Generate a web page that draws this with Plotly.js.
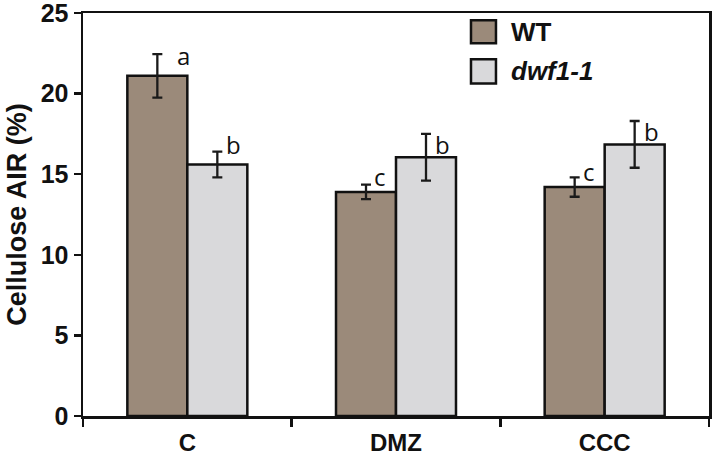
<!DOCTYPE html>
<html>
<head>
<meta charset="utf-8">
<script src="https://cdn.plot.ly/plotly-3.0.1.min.js"></script>
<style>html,body{margin:0;padding:0;background:#fff}#chart{width:713px;height:458px}</style>
</head>
<body>
<div id="chart"></div>
<script>
// ---- data ----
const categories = ['C', 'DMZ', 'CCC'];
const seriesNames = ['WT', 'dwf1-1'];
const wtValues = [21.1, 13.9, 14.2];
const wtErrors = [1.35, 0.45, 0.6];
const dwfValues = [15.6, 16.05, 16.85];
const dwfErrors = [0.8, 1.45, 1.45];
const wtLetters = ['a', 'c', 'c'];
const dwfLetters = ['b', 'b', 'b'];
const yTicks = [0, 5, 10, 15, 20, 25];

// ---- style ----
const wtColor = '#9b8a7a';
const dwfColor = '#d9d9db';
const bargap = 0.425;
const letterXShiftWT = [18, 6, 6];
const letterXShiftDWF = [7, 7, 7];
const letterYShiftWT = [20, 15, 16];
const letterYShiftDWF = [20, 13, 13];

const errStyle = {type: 'data', visible: true, color: '#1a1a1a', thickness: 2.3, width: 5};
const traces = [
  {type: 'bar', name: seriesNames[0], x: categories, y: wtValues,
   error_y: Object.assign({array: wtErrors}, errStyle),
   marker: {color: wtColor, line: {color: '#111', width: 2.5}}, showlegend: false},
  {type: 'bar', name: seriesNames[1], x: categories, y: dwfValues,
   error_y: Object.assign({array: dwfErrors}, errStyle),
   marker: {color: dwfColor, line: {color: '#111', width: 2.5}}, showlegend: false}
];

const barHalf = (1 - bargap) / 4; // center offset of each bar in category units
const letterFont = {family: 'Open Sans, sans-serif', size: 24, color: '#111'};
const annotations = [];
categories.forEach((c, i) => {
  annotations.push({x: i - barHalf, y: wtValues[i], xref: 'x', yref: 'y', text: wtLetters[i],
    showarrow: false, xanchor: 'left', yanchor: 'middle', xshift: letterXShiftWT[i], yshift: letterYShiftWT[i],
    font: letterFont});
  annotations.push({x: i + barHalf, y: dwfValues[i], xref: 'x', yref: 'y', text: dwfLetters[i],
    showarrow: false, xanchor: 'left', yanchor: 'middle', xshift: letterXShiftDWF[i], yshift: letterYShiftDWF[i],
    font: letterFont});
});
// legend text
const legendFont = {family: 'Liberation Sans, Arial, sans-serif', size: 26, color: '#111'};
annotations.push({xref: 'paper', yref: 'paper', x: 0.68, y: 0.953, text: '<b>' + seriesNames[0] + '</b>',
  showarrow: false, xanchor: 'left', yanchor: 'middle', font: legendFont});
annotations.push({xref: 'paper', yref: 'paper', x: 0.68, y: 0.855, text: '<b><i>' + seriesNames[1] + '</i></b>',
  showarrow: false, xanchor: 'left', yanchor: 'middle', font: legendFont});

const shapes = [
  {type: 'rect', xref: 'paper', yref: 'paper', x0: 0.6198, x1: 0.6597, y0: 0.925, y1: 0.982,
   fillcolor: wtColor, line: {color: '#111', width: 2.5}},
  {type: 'rect', xref: 'paper', yref: 'paper', x0: 0.6198, x1: 0.6597, y0: 0.825, y1: 0.885,
   fillcolor: dwfColor, line: {color: '#111', width: 2.5}}
];

const layout = {
  width: 713, height: 458,
  margin: {l: 83, r: 4, t: 13, b: 42},
  paper_bgcolor: '#fff', plot_bgcolor: '#fff',
  barmode: 'group', bargap: bargap, bargroupgap: 0,
  font: {family: 'Liberation Sans, Arial, sans-serif', color: '#111'},
  xaxis: {type: 'category', showline: true, linecolor: '#111', linewidth: 2.5, mirror: true,
    ticks: 'outside', tickson: 'boundaries', ticklen: 8, tickwidth: 2.5, tickcolor: '#111',
    showgrid: false, zeroline: false, ticklabelstandoff: 4, ticklabeloverflow: 'allow',
    tickfont: {family: 'Liberation Sans, Arial, sans-serif', size: 24, color: '#111', weight: 'bold'}},
  yaxis: {range: [0, 25], tickvals: yTicks, ticktext: yTicks.map(String),
    showline: true, linecolor: '#111', linewidth: 2.5, mirror: true, ticklabeloverflow: 'allow',
    ticks: 'outside', ticklen: 7, tickwidth: 2.5, tickcolor: '#111', showgrid: false, zeroline: false,
    tickfont: {family: 'Liberation Sans, Arial, sans-serif', size: 25, color: '#111', weight: 'bold'},
    title: {text: '<b>Cellulose AIR (%)</b>', standoff: 6,
      font: {family: 'Liberation Sans, Arial, sans-serif', size: 27, color: '#111'}}},
  annotations: annotations,
  shapes: shapes
};

Plotly.newPlot('chart', traces, layout, {displayModeBar: false, staticPlot: true});
</script>
</body>
</html>
